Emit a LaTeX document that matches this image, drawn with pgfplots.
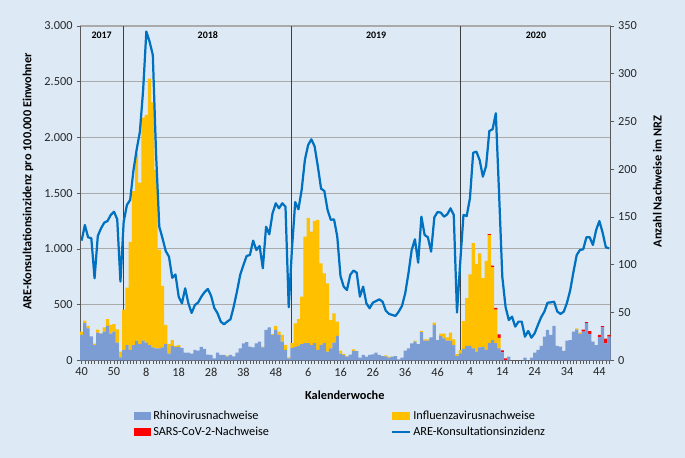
\documentclass[border=0pt]{standalone}
\usepackage{fontspec}
\setmainfont{Carlito}
\usepackage{pgfplots}
\pgfplotsset{compat=1.18}
\usepackage{pgfplotstable}

\definecolor{bgblue}{HTML}{DDEAF6}
\definecolor{rhino}{RGB}{124,156,212}
\definecolor{flu}{HTML}{FFC000}
\definecolor{sars}{HTML}{FF0000}
\definecolor{are}{HTML}{0070C0}
\definecolor{gridgray}{RGB}{170,170,170}
\definecolor{axisgray}{RGB}{90,90,90}

% w = week index (0 = KW 40/2017), bars: right axis, are: left axis
\pgfplotstableread{
w rhino flu sars are
0 26.5 3.5 0 1074
1 39 2.5 0 1214
2 33.5 2.5 0 1104
3 25 0 0 1095
4 16 1.5 0 736
5 29 3 0 1116
6 28 0.5 0 1184
7 30 4.5 0 1235
8 36 7 0 1250
9 28 9 0 1304
10 30 8 0 1334
11 18.5 14 0 1265
12 3 6 0 706
13 11 42 0 1244
14 16 60 0 1394
15 11 113 0 1439
16 16 161 0 1700
17 20.5 196 0 1890
18 17 169 0 2050
19 20.5 233.5 0 2420
20 18.5 238.5 0 2950
21 16 279 0 2860
22 13.5 256.5 0 2740
23 12.5 186.5 0 1857
24 12.5 103.5 0 1199
25 13.5 64.5 0 1095
26 17 20 0 980
27 7 10 0 930
28 15 6 0 740
29 14 1 0 770
30 14 2 0 571
31 13 0 0 511
32 8 0 0 646
33 8 0 0 510
34 7 0 0 425
35 11 0 0 496
36 10 0 0 518
37 14 0 0 571
38 12 0 0 612
39 6 0 0 640
40 5.6 0 0 580
41 2 0 0 470
42 8 0 0 422
43 5.6 0 0 347
44 5.6 0 0 323
45 4 1 0 347
46 5.6 0 0 368
47 4 0 0 481
48 8 0 0 616
49 12.6 0 0 766
50 17.8 0 0 855
51 19 0 0 936
52 14.3 0 0 945
53 13.6 0 0 1074
54 17.8 0 0 990
55 19.5 0 0 1026
56 13.6 0.7 0 826
57 31.8 0 0 1199
58 34.5 0 0 1131
59 26.5 1 0 1319
60 31.8 4.2 0 1409
61 26.5 3.5 0 1364
62 19.5 7 0 1409
63 10.8 5.3 0 1379
64 2 1 0 476
65 13 5 0 1000
66 14 24.7 0 1420
67 15 28 0 1355
68 17 49.7 0 1530
69 18 111.5 0 1800
70 18 131 0 1932
71 16 118.7 0 1983
72 18 128 0 1920
73 11 136 0 1740
74 16 85.6 0 1540
75 18 73 0 1520
76 9 71.6 0 1350
77 12.6 29.4 0 1260
78 18.5 30.5 0 1265
79 25.5 15 0 1110
80 7 3 0 755
81 5.6 1 0 661
82 3.8 0.7 0 631
83 6 0 0 766
84 9.8 1.7 0 805
85 9.5 0.3 0 787
86 2.8 0 0 571
87 5.6 0 0 661
88 3.8 0 0 511
89 5.6 0 0 467
90 6.3 0 0 517
91 8 0 0 532
92 5.6 0 0 547
93 4.5 0 0 526
94 4 1.2 0 445
95 2.8 1 0 416
96 3.8 0 0 407
97 4.5 0 0 398
98 1 0 0 437
99 2.8 0 0 488
100 10 0 0 601
101 12.6 0 0 781
102 17.8 0 0 990
103 19.5 1 0 1086
104 17 0 0 876
105 29.5 1.2 0 1289
106 20.5 1.5 0 1125
107 20.5 1.5 0 1104
108 24 0 0 975
109 37 2.4 0 1283
110 21 0 0 1331
111 25.5 2.5 0 1325
112 23 5 0 1289
113 20.6 3.4 0 1310
114 20.6 8.4 0 1364
115 16 6 0 1304
116 4.5 2 0 428
117 7 4 0 880
118 12 29 0 1304
119 15 50 0 1295
120 15 75 0 1454
121 12.6 110 0 1863
122 9 92 0 1872
123 13.6 98.4 0 1797
124 14 72 0 1648
125 11 93 0 1744
126 18 113 1 2058
127 21 76.5 1.5 2073
128 18 35 2 2217
129 12.6 11 3.5 1500
130 8.4 0 2 750
131 0.5 0 1.4 480
132 3.8 0 0 362
133 0 0 0 392
134 0 0 0 302
135 0 0 0 347
136 0 0 0 347
137 2.8 0 0 212
138 0 0 0 263
139 2.8 0 0 203
140 8 0 0 242
141 10.8 0 0 317
142 15 0 0 386
143 24.8 0 0 437
144 31.8 0 0 517
145 26.5 0 0 520
146 36 0 0 526
147 15 0 0 437
148 14.3 0 0 416
149 9.8 0 0 437
150 20.6 0 0 517
151 21 0 0 631
152 30 0 0 795
153 32 1.5 0 945
154 27.6 1.4 0 990
155 30 0 2 996
156 39 0 1 1104
157 27.6 0 3 1104
158 19.5 0 0 1035
159 16 0 0 1169
160 24 0 2.5 1250
161 34.5 0 1.4 1146
162 17.8 0 5 1014
163 24.8 0 1.8 1005
}\weeks

\newcommand\lbl{\fontsize{10.5}{12.5}\selectfont}

\pgfplotsset{
  barlegend/.style={legend image code/.code={\fill[##1] (0mm,-1mm) rectangle (5.2mm,1.2mm);}},
  linelegend/.style={legend image code/.code={\draw[##1] (0mm,0.1mm) -- (5.2mm,0.1mm);}},
  chartbase/.style={
    at={(24mm,29.31mm)}, anchor=south west,
    width=159.21mm, height=100.29mm, scale only axis,
    xmin=-0.5, xmax=163.5,
    tick label style={font=\lbl, text=black!85},
    /pgf/number format/assume math mode=true,
    tick align=outside,
    major tick length=1mm, minor tick length=1mm,
    tick style={axisgray, line width=0.5pt},
    axis line style={axisgray, line width=0.8pt},
  },
}

\begin{document}
\begin{tikzpicture}
\useasboundingbox (0,0) rectangle (205.5mm,137.4mm);
\fill[bgblue] (0,0) rectangle (205.5mm,137.4mm);

% left axis, grid, weeks, year separators
\begin{axis}[chartbase,
  ymin=0, ymax=3000,
  axis x line*=bottom, axis y line*=left,
  ytick={0,500,...,3000},
  /pgf/number format/1000 sep={.},
  ymajorgrids, grid style={gridgray, line width=0.9pt},
  xtick={0,10,...,160},
  xticklabels={40,50,8,18,28,38,48,6,16,26,36,46,4,14,24,34,44},
  minor xtick={0,...,163},
  xlabel={Kalenderwoche},
  ylabel={ARE-Konsultationsinzidenz pro 100.000 Einwohner},
  every axis x label/.style={at={(axis description cs:0.499,-0.104)}, anchor=center, font=\lbl\bfseries},
  every axis y label/.style={at={(axis description cs:-0.098,0.535)}, rotate=90, anchor=center, font=\lbl\bfseries},
]
\draw[black!75, line width=0.85pt] (axis cs:13,0) -- (axis cs:13,3000);
\draw[black!75, line width=0.85pt] (axis cs:65,0) -- (axis cs:65,3000);
\draw[black!75, line width=0.85pt] (axis cs:117,0) -- (axis cs:117,3000);
\node[font=\fontsize{8.5}{10}\selectfont\bfseries] at (axis cs:6.2,2919) {2017};
\node[font=\fontsize{8.5}{10}\selectfont\bfseries] at (axis cs:39,2919) {2018};
\node[font=\fontsize{8.5}{10}\selectfont\bfseries] at (axis cs:91,2919) {2019};
\node[font=\fontsize{8.5}{10}\selectfont\bfseries] at (axis cs:140.4,2919) {2020};
\end{axis}

% stacked detections, right axis
\begin{axis}[chartbase,
  ymin=0, ymax=350,
  axis y line*=right, axis x line=none,
  ytick={0,50,...,350},
  ybar stacked, bar width=1,
  ylabel={Anzahl Nachweise im NRZ},
  every axis y label/.style={at={(axis description cs:1.088,0.535)}, rotate=90, anchor=center, font=\lbl\bfseries},
  legend columns=2,
  legend cell align=left,
  legend style={at={(axis description cs:0.094,-0.137)}, anchor=north west,
    draw=none, fill=none, font=\lbl, row sep=0.4mm,
    /tikz/every even column/.append style={column sep=36mm}},
]
\addplot[fill=rhino, draw=none, barlegend] table[x=w,y=rhino]{\weeks};
\addlegendentry{Rhinovirusnachweise}
\addplot[fill=flu, draw=none, barlegend] table[x=w,y=flu]{\weeks};
\addlegendentry{Influenzavirusnachweise}
\addplot[fill=sars, draw=none, barlegend] table[x=w,y=sars]{\weeks};
\addlegendentry{SARS-CoV-2-Nachweise}
\addlegendimage{linelegend, are, line width=1.9pt}
\addlegendentry{ARE-Konsultationsinzidenz}
\end{axis}

% ARE line on top
\begin{axis}[chartbase, ymin=0, ymax=3000, hide axis]
\addplot[are, line width=1.9pt, line join=round, no markers] table[x=w,y=are]{\weeks};
\end{axis}
\end{tikzpicture}
\end{document}
